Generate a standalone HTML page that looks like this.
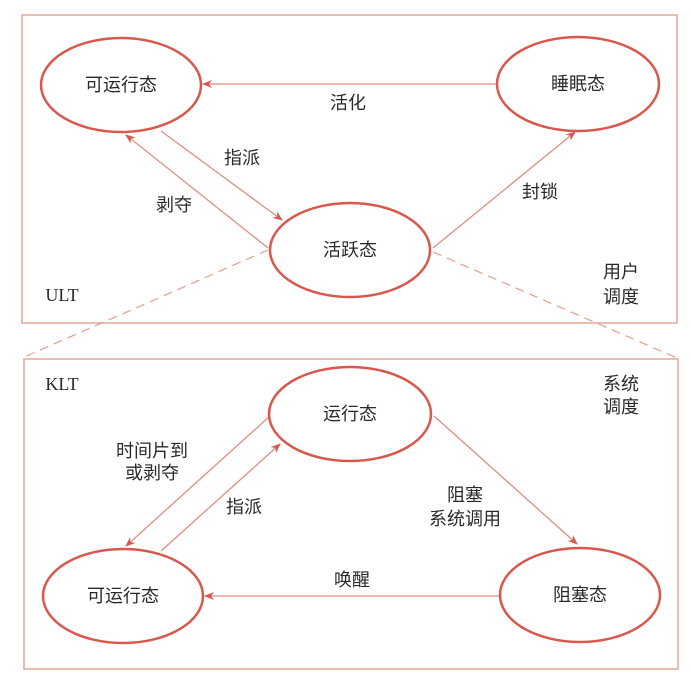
<!DOCTYPE html>
<html><head><meta charset="utf-8"><style>
html,body{margin:0;padding:0;background:#fff;}
svg{display:block;}
text{font-family:"Liberation Serif","Noto Sans CJK SC",sans-serif;fill:#2a2a2a;font-size:18px;}
</style></head><body>
<svg width="690" height="685" viewBox="0 0 690 685" xmlns="http://www.w3.org/2000/svg">
<defs>
<marker id="a" markerWidth="10" markerHeight="8" refX="9" refY="4" orient="auto" markerUnits="userSpaceOnUse">
<path d="M0,0 L10,4 L0,8 L3,4 Z" fill="#d9574c"/>
</marker>
</defs>
<rect x="22" y="15" width="655" height="308" fill="none" stroke="#e2a89c" stroke-width="1.5"/>
<rect x="24" y="359" width="654" height="310" fill="none" stroke="#e2a89c" stroke-width="1.5"/>
<g stroke="#e0a090" stroke-width="1.2" stroke-dasharray="9,6" fill="none">
<line x1="268" y1="250" x2="22" y2="358"/>
<line x1="433" y1="252" x2="677" y2="358"/>
</g>
<g stroke="#db8f82" stroke-width="1.3" fill="none" marker-end="url(#a)">
<line x1="496" y1="84" x2="203" y2="84"/>
<line x1="161" y1="131" x2="282" y2="220"/>
<line x1="268" y1="248" x2="126" y2="135"/>
<line x1="433" y1="248" x2="575" y2="132"/>
<line x1="500" y1="596" x2="205" y2="596"/>
<line x1="270" y1="416" x2="126" y2="546"/>
<line x1="161" y1="551" x2="280" y2="444"/>
<line x1="434" y1="416" x2="577" y2="544"/>
</g>
<g stroke="#d9574c" stroke-width="2.5" fill="#fff">
<ellipse cx="121" cy="85" rx="80" ry="47"/>
<ellipse cx="578" cy="84" rx="81" ry="47"/>
<ellipse cx="350" cy="250" rx="80" ry="47"/>
<ellipse cx="350" cy="414" rx="81" ry="47"/>
<ellipse cx="123" cy="596" rx="80" ry="47"/>
<ellipse cx="580" cy="595" rx="80" ry="47"/>
</g>
<g text-anchor="middle" dominant-baseline="central">
<text x="121" y="85">可运行态</text>
<text x="578" y="84">睡眠态</text>
<text x="350" y="250">活跃态</text>
<text x="348" y="103">活化</text>
<text x="242" y="158">指派</text>
<text x="174" y="205">剥夺</text>
<text x="540" y="192">封锁</text>
<text x="62" y="295">ULT</text>
<text x="621" y="272">用户</text>
<text x="621" y="297">调度</text>
<text x="350" y="414">运行态</text>
<text x="123" y="596">可运行态</text>
<text x="580" y="595">阻塞态</text>
<text x="62" y="384">KLT</text>
<text x="621" y="384">系统</text>
<text x="621" y="407">调度</text>
<text x="352" y="580">唤醒</text>
<text x="152" y="451">时间片到</text>
<text x="152" y="473">或剥夺</text>
<text x="244" y="507">指派</text>
<text x="465" y="495">阻塞</text>
<text x="465" y="519">系统调用</text>
</g>
</svg>
</body></html>
